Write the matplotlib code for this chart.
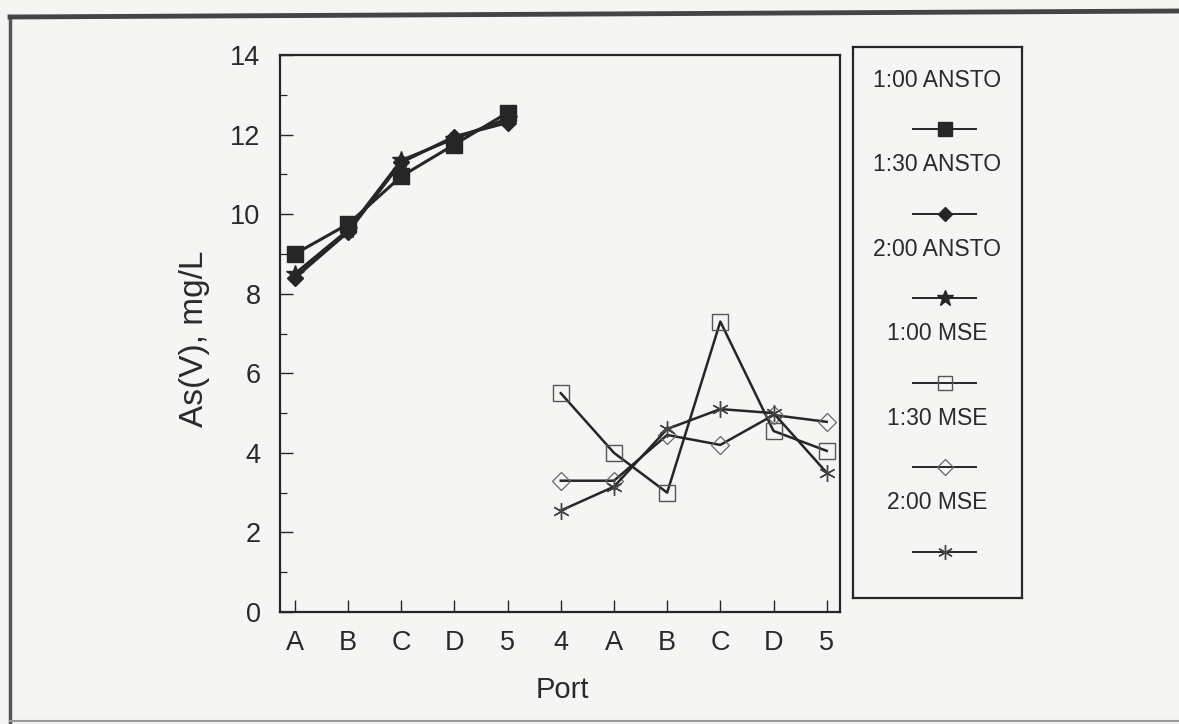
import matplotlib
matplotlib.use("Agg")
import matplotlib.pyplot as plt
from matplotlib.lines import Line2D
from matplotlib.ticker import MultipleLocator

plt.rcParams['font.family'] = ['Liberation Sans', 'DejaVu Sans']

# Sampling ports along the two treatment trains
ports = ['A', 'B', 'C', 'D', '5', '4', 'A', 'B', 'C', 'D', '5']
ansto_pos = [1, 2, 3, 4, 5]
mse_pos = [6, 7, 8, 9, 10, 11]

# As(V) concentrations, mg/L
ansto_100 = [9.0, 9.75, 10.95, 11.75, 12.55]
ansto_130 = [8.4, 9.55, 11.3, 11.95, 12.3]
ansto_200 = [8.5, 9.6, 11.35, 11.9, 12.4]
mse_100 = [5.5, 4.0, 3.0, 7.3, 4.55, 4.05]
mse_130 = [3.3, 3.3, 4.45, 4.2, 4.95, 4.78]
mse_200 = [2.55, 3.15, 4.6, 5.1, 5.0, 3.5]

labels = ['1:00 ANSTO', '1:30 ANSTO', '2:00 ANSTO', '1:00 MSE', '1:30 MSE', '2:00 MSE']

ink = '#262626'
text_c = '#2a2a2a'
paper = '#f5f5f3'
asterisk = (6, 2, 0)

styles = [
    dict(marker='s', ms=11, mfc=ink, mec=ink, lw=2.2),
    dict(marker='D', ms=8, mfc=ink, mec=ink, lw=2.2),
    dict(marker='*', ms=13, mfc=ink, mec=ink, lw=2.2),
    dict(marker='s', ms=11, mfc='none', mec='#555555', mew=1.0, lw=1.8),
    dict(marker='D', ms=9, mfc='none', mec='#666666', mew=0.9, lw=1.8),
    dict(marker=asterisk, ms=12, mfc='none', mec='#444444', mew=1.0, lw=1.8),
]

W, H = 1179, 724
fig = plt.figure(figsize=(W / 100, H / 100), dpi=100, facecolor=paper)

# Main plot area
ax = fig.add_axes([280 / W, 1 - 612 / H, (840 - 280) / W, (612 - 55) / H])
ax.set_facecolor(paper)

series = [(ansto_pos, ansto_100), (ansto_pos, ansto_130), (ansto_pos, ansto_200),
          (mse_pos, mse_100), (mse_pos, mse_130), (mse_pos, mse_200)]
for (xs, ys), st in zip(series, styles):
    ax.plot(xs, ys, color=ink, **st)

ax.set_xlim(0.72, 11.25)
ax.set_ylim(0, 14)
ax.set_xticks(range(1, len(ports) + 1))
ax.set_xticklabels(ports)
ax.yaxis.set_major_locator(MultipleLocator(2))
ax.yaxis.set_minor_locator(MultipleLocator(1))
ax.tick_params(axis='both', which='major', direction='in', length=9, width=1.0,
               colors=ink, labelcolor=text_c, labelsize=19.5)
ax.tick_params(axis='y', which='minor', direction='in', length=5, width=0.9, colors=ink)
ax.tick_params(axis='y', pad=14)
ax.tick_params(axis='x', pad=13)
for sp in ax.spines.values():
    sp.set_color(ink)
    sp.set_linewidth(1.6)
ax.set_xlabel('Port', fontsize=21, color=text_c)
ax.xaxis.set_label_coords((562 - 280) / 560, (612 - 676) / 557)
ax.set_ylabel('As(V), mg/L', fontsize=24, color=text_c)
ax.yaxis.set_label_coords((210 - 280) / 560, 0.49)

# Legend panel, drawn as its own boxed axes
lax = fig.add_axes([853 / W, 1 - 598 / H, (1022 - 853) / W, (598 - 47) / H])
lax.set_facecolor(paper)
lax.set_xlim(853, 1022)
lax.set_ylim(598, 47)
lax.set_xticks([])
lax.set_yticks([])
for sp in lax.spines.values():
    sp.set_color(ink)
    sp.set_linewidth(1.6)
for i, (lab, st) in enumerate(zip(labels, styles)):
    ty = 80 + i * 84.5
    ly = ty + 49
    lax.text(937, ty, lab, ha='center', va='center', color=text_c, fontsize=16.5)
    lax.plot([913, 976], [ly, ly], color=ink, lw=1.4)
    mk = {k: v for k, v in st.items() if k != 'lw'}
    mk['ms'] = st['ms'] * 0.9
    lax.plot([944.5], [ly], color=ink, linestyle='none', **mk)

# Page frame around the figure
fig.add_artist(Line2D([10 / W, 10 / W], [1 - 16 / H, 1 - 722 / H], color='#555555', lw=2.5))
fig.add_artist(Line2D([10 / W, 1.0], [1 - 17 / H, 1 - 11 / H], color='#444444', lw=3.5))
fig.add_artist(Line2D([10 / W, 1.0], [1 - 721 / H, 1 - 721 / H], color='#999999', lw=1.5))

fig.savefig('out.png', dpi=100, facecolor=paper)
